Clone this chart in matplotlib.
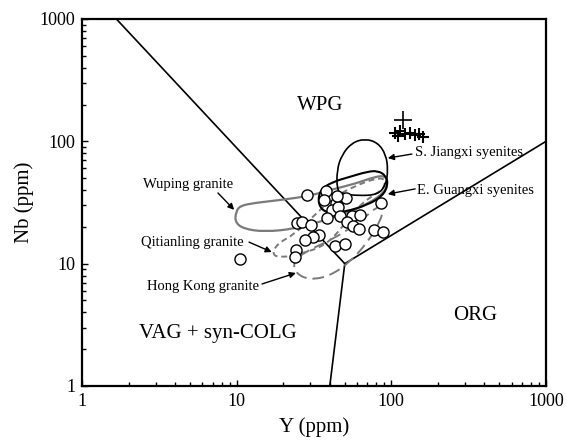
import matplotlib
matplotlib.use("Agg")
import matplotlib.pyplot as plt
from matplotlib.path import Path
from matplotlib.patches import PathPatch
import numpy as np

plt.rcParams['font.family'] = ['Liberation Serif', 'DejaVu Serif']

# Pearce et al. discrimination boundaries (Y, Nb)
VAG_WPG_Y = [1, 50]
VAG_WPG_NB = [2000, 10]
ORG_WPG_Y = [50, 1000]
ORG_WPG_NB = [10, 100]
VAG_ORG_Y = [40, 50]
VAG_ORG_NB = [1, 10]

# granite samples (open circles)
SAMPLE_Y = [28.6, 37.8, 50.7, 36.7, 43.9, 41.1, 45.4, 38.2, 46.5, 55.4, 62.7,
            51.4, 56.7, 62.1, 85.7, 77.2, 88.7, 24.4, 26.5, 30.1, 34.0, 31.0,
            27.7, 43.2, 50.1, 24.2, 23.8, 10.5, 44.5]
SAMPLE_NB = [36.1, 39.4, 34.4, 33.3, 31.3, 27.6, 29.0, 23.6, 24.6, 24.3, 25.1,
             22.1, 20.4, 19.3, 31.3, 18.9, 18.3, 21.7, 22.1, 20.7, 17.2, 16.5,
             15.7, 14.0, 14.5, 13.0, 11.3, 10.9, 35.9]

# crosses
CROSS_Y = [105.5, 113.6, 122.5, 131.9, 142.1, 150.8, 160.0, 110.3]
CROSS_NB = [117.6, 122.1, 115.4, 117.6, 113.2, 115.4, 109.1, 111.1]
BIG_CROSS_Y = [118.9]
BIG_CROSS_NB = [150.2]

# field outlines
WUPING_Y = [9.90, 10.5, 13.1, 19.9, 29.8, 43.2, 58.2, 78.3, 90.9, 95.1, 90.9,
            72.7, 50.1, 34.5, 23.8, 15.2, 11.0, 9.75]
WUPING_NB = [26.5, 29.7, 31.4, 33.3, 35.9, 41.0, 45.0, 51.3, 52.3, 46.7, 38.7,
             31.4, 25.6, 22.0, 19.3, 18.2, 19.3, 22.0]

QITIAN_Y = [16.9, 18.2, 23.8, 32.1, 41.9, 58.2, 81.9, 92.3, 88.2, 74.9, 58.2,
            47.9, 37.2, 25.7, 19.6]
QITIAN_NB = [11.8, 14.5, 17.5, 25.1, 34.5, 43.3, 50.4, 48.5, 40.2, 35.9, 27.6,
             19.6, 14.0, 12.0, 11.2]

HONGKONG_Y = [23.1, 24.2, 29.8, 40.1, 54.0, 70.6, 84.4, 89.6, 81.9, 64.6, 50.1,
              37.2, 27.7]
HONGKONG_NB = [10.3, 8.26, 7.37, 7.94, 10.3, 15.1, 22.0, 28.6, 29.7, 22.8, 18.2,
               14.8, 12.5]

SJIANGXI_Y = [44.5, 44.5, 47.9, 55.6, 67.5, 81.9, 92.3, 95.1, 92.3, 81.9, 60.8, 47.9]
SJIANGXI_NB = [40.2, 58.6, 77.7, 97.4, 105, 97.4, 77.7, 58.6, 44.2, 36.6, 35.9, 37.3]

EGUANGXI_Y = [34.5, 41.9, 54.0, 69.5, 81.9, 92.3, 95.1, 88.2, 70.6, 50.1, 38.4, 33.5]
EGUANGXI_NB = [40.2, 46.7, 51.3, 56.4, 57.5, 52.3, 44.2, 35.9, 30.3, 26.5, 25.6, 30.3]


def smooth_outline(xs, ys):
    # closed quadratic-bezier outline, control points = the read vertices,
    # joints at geometric midpoints (log axes)
    pts = list(zip(xs, ys))
    n = len(pts)
    mid = lambda a, b: (np.sqrt(a[0] * b[0]), np.sqrt(a[1] * b[1]))
    verts = [mid(pts[-1], pts[0])]
    codes = [Path.MOVETO]
    for i in range(n):
        verts += [pts[i], mid(pts[i], pts[(i + 1) % n])]
        codes += [Path.CURVE3, Path.CURVE3]
    return Path(verts, codes)


fig = plt.figure(figsize=(5.67, 4.48), dpi=100)
ax = fig.add_axes([0.1446, 0.1384, 0.8184, 0.8192])
ax.set_xscale('log')
ax.set_yscale('log')
ax.set_xlim(1, 1000)
ax.set_ylim(1, 1000)

for xs, ys in [(VAG_WPG_Y, VAG_WPG_NB), (ORG_WPG_Y, ORG_WPG_NB), (VAG_ORG_Y, VAG_ORG_NB)]:
    ax.plot(xs, ys, color='black', lw=1.2, zorder=2)

gray = '#7a7a7a'
fields = [
    (WUPING_Y, WUPING_NB, gray, 1.6, '-'),
    (QITIAN_Y, QITIAN_NB, gray, 1.4, (0, (3, 2))),
    (HONGKONG_Y, HONGKONG_NB, gray, 1.4, (0, (6, 3))),
    (SJIANGXI_Y, SJIANGXI_NB, 'black', 1.2, '-'),
    (EGUANGXI_Y, EGUANGXI_NB, 'black', 1.5, '-'),
]
for xs, ys, c, lw, ls in fields:
    ax.add_patch(PathPatch(smooth_outline(xs, ys), fill=False, ec=c, lw=lw, ls=ls, zorder=3))

ax.plot(SAMPLE_Y, SAMPLE_NB, 'o', ms=8, mfc='white', mec='black', mew=1.0, zorder=4)
ax.plot(CROSS_Y, CROSS_NB, '+', ms=9, mec='black', mew=1.5, zorder=4)
ax.plot(BIG_CROSS_Y, BIG_CROSS_NB, '+', ms=13, mec='black', mew=1.2, zorder=4)

# field names
ax.text(0.513, 0.763, 'WPG', transform=ax.transAxes, ha='center', va='center', fontsize=15)
ax.text(0.293, 0.144, 'VAG + syn-COLG', transform=ax.transAxes, ha='center', va='center', fontsize=15)
ax.text(0.847, 0.193, 'ORG', transform=ax.transAxes, ha='center', va='center', fontsize=15)

arrow = dict(arrowstyle='-|>', color='black', lw=1.0, mutation_scale=9, shrinkA=0, shrinkB=0)
labels = [
    ('Wuping granite', (0.228, 0.548), (0.293, 0.526), (0.328, 0.480), 'center'),
    ('Qitianling granite', (0.238, 0.392), (0.360, 0.392), (0.409, 0.365), 'center'),
    ('Hong Kong granite', (0.261, 0.272), (0.388, 0.278), (0.461, 0.308), 'center'),
    ('S. Jiangxi syenites', (0.718, 0.635), (0.711, 0.632), (0.659, 0.621), 'left'),
    ('E. Guangxi syenites', (0.722, 0.534), (0.718, 0.537), (0.659, 0.523), 'left'),
]
for txt, tpos, start, tip, ha in labels:
    ax.text(tpos[0], tpos[1], txt, transform=ax.transAxes, ha=ha, va='center', fontsize=10.5)
    ax.annotate('', xy=tip, xytext=start, xycoords='axes fraction',
                textcoords='axes fraction', arrowprops=arrow)

ax.set_xticks([1, 10, 100, 1000])
ax.set_xticklabels(['1', '10', '100', '1000'])
ax.set_yticks([1, 10, 100, 1000])
ax.set_yticklabels(['1', '10', '100', '1000'])
ax.tick_params(which='both', direction='in', top=False, right=False, labelsize=13, width=1)
ax.tick_params(which='major', length=4, pad=5)
ax.tick_params(which='minor', length=3)
for s in ax.spines.values():
    s.set_linewidth(1.6)

ax.set_xlabel('Y (ppm)', fontsize=15, labelpad=5)
ax.set_ylabel('Nb (ppm)', fontsize=15, labelpad=4)

fig.savefig('out.png', dpi=100)
